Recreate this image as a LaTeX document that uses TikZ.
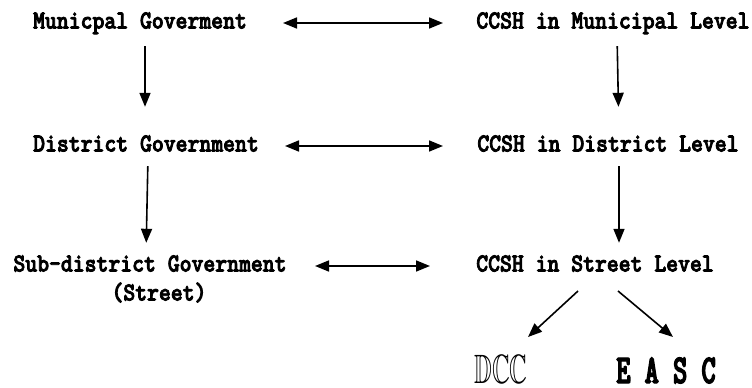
\documentclass[tikz,border=0pt]{standalone}
\usepackage{amssymb}
\usepackage{fontspec}
\usepackage{tikz}
\usetikzlibrary{arrows.meta}
\newfontfamily\refmono[FakeStretch=0.87, FakeBold=3]{lmmonolt10-bold.otf}
\newfontfamily\refbig[FakeStretch=0.66, FakeBold=3]{lmmonolt10-bold.otf}

\begin{document}
\begin{tikzpicture}[x=1pt, y=-1pt,
		lbl/.style={inner sep=0pt, text height=16pt, text depth=5pt, font=\fontsize{26}{29}\refmono},
		big/.style={inner sep=0pt, anchor=base, text height=25pt, text depth=0pt, font=\fontsize{41}{44}\refbig},
		arr/.style={line width=1.6pt, -{Triangle[length=14pt,width=11pt]}},
		dbl/.style={line width=1.6pt, {Triangle[length=14pt,width=11pt]}-{Triangle[length=14pt,width=11pt]}}]
			%%%%% START %%%%%
			\useasboundingbox (0, 0) rectangle (752, 388);
			
			\node[lbl] (mg) at (140, 23) {Municpal Goverment};
			\node[lbl] (dg) at (146, 146) {District Government};
			\node[lbl] (sg) at (150, 266) {Sub-district Government};
			\node[lbl] (st) at (159, 295) {(Street)};
			
			\node[lbl] (ccm) at (613, 23) {CCSH in Municipal Level};
			\node[lbl] (ccd) at (608, 146) {CCSH in District Level};
			\node[lbl] (ccs) at (595, 266) {CCSH in Street Level};
			
			\node[big] (dcc) at (501, 383) {\scalebox{0.6}[1]{$\mathbb{D}\mathbb{C}\mathbb{C}$}};
			\node[big] (easc) at (666, 383) {E A S C};
			
			\draw[dbl, shorten <=143pt, shorten >=170pt] (mg.center) -- (ccm.center);
			\draw[dbl, shorten <=139pt, shorten >=165pt] (dg.center) -- (ccd.center);
			\draw[dbl, shorten <=165pt, shorten >=165pt] (sg.center) -- (ccs.center);
			
			\draw[arr, shorten <=12.5pt, shorten >=28.5pt] ([xshift=5pt]mg.south) -- ([xshift=-1pt]dg.north);
			\draw[arr, shorten <=9.5pt, shorten >=12.5pt] ([xshift=2pt]dg.south) -- ([xshift=-4pt]sg.north);
			\draw[arr, shorten <=12.5pt, shorten >=28.5pt] ([xshift=4pt]ccm.south) -- ([xshift=11pt]ccd.north);
			\draw[arr, shorten <=9.5pt, shorten >=12.5pt] ([xshift=11pt]ccd.south) -- ([xshift=24pt]ccs.north);
			
			\draw[arr] ([shift={(-17, 25)}]ccs.center) -- ([shift={(27, -46)}]dcc.base);
			\draw[arr] ([shift={(23, 25)}]ccs.center) -- ([shift={(7, -46)}]easc.base);
			%%%%% END %%%%%
\end{tikzpicture}
\end{document}
